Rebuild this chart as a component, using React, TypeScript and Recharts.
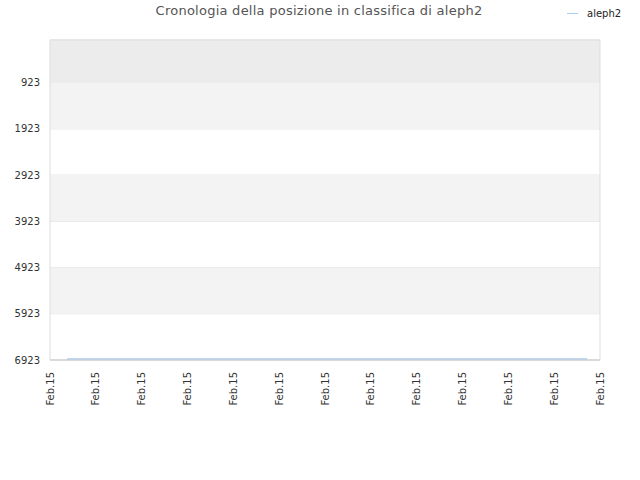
import React from "react";
import {
  LineChart,
  Line,
  XAxis,
  YAxis,
  CartesianGrid,
  ReferenceArea,
} from "recharts";

const TITLE = "Cronologia della posizione in classifica di aleph2";
const SERIES_NAME = "aleph2";
const X_TICKS = [0, 1, 2, 3, 4, 5, 6, 7, 8, 9, 10, 11, 12];
const X_TICK_LABEL = "Feb.15";
const Y_TICKS = [923, 1923, 2923, 3923, 4923, 5923, 6923];
const Y_DOMAIN = [0, 6923];
const POINT_X = [0.37, 11.72];
const POINT_RANK = [6901, 6901];
const BANDS: [number, number, string][] = [
  [0, 923, "#ececec"],
  [923, 1923, "#f3f3f3"],
  [2923, 3923, "#f3f3f3"],
  [4923, 5923, "#f3f3f3"],
];

const data = POINT_X.map((x, i) => ({ x, rank: POINT_RANK[i] }));

const FONT = "'DejaVu Sans', sans-serif";

const XTick = (props: any) => {
  const { x, y } = props;
  const yy = y + 6;
  return (
    <text
      x={x}
      y={yy}
      transform={`rotate(-90, ${x}, ${yy})`}
      textAnchor="end"
      dy="0.35em"
      fontSize={10}
      fontFamily={FONT}
      fill="#333"
    >
      {X_TICK_LABEL}
    </text>
  );
};

export default function App() {
  return (
    <div
      style={{
        position: "absolute",
        left: 0,
        top: 0,
        width: 640,
        height: 480,
        background: "#fff",
      }}
    >
      <div
        style={{
          position: "absolute",
          left: 0,
          top: 3,
          width: 638,
          textAlign: "center",
          fontFamily: FONT,
          fontSize: 13,
          letterSpacing: 0.25,
          color: "#555",
        }}
      >
        {TITLE}
      </div>
      <div
        style={{
          position: "absolute",
          left: 567,
          top: 8,
          display: "flex",
          alignItems: "center",
          fontFamily: FONT,
          fontSize: 10,
          color: "#222",
          zIndex: 2,
        }}
      >
        <div
          style={{
            width: 11,
            height: 0,
            borderTop: "1.5px solid #a8cdf0",
            marginRight: 9,
          }}
        />
        <span>{SERIES_NAME}</span>
      </div>
      <LineChart
        width={640}
        height={480}
        data={data}
        margin={{ top: 40, right: 40, bottom: 0, left: 0 }}
      >
        {BANDS.map(([a, b, c], i) => (
          <ReferenceArea
            key={i}
            y1={a}
            y2={b}
            fill={c}
            fillOpacity={1}
            stroke="none"
            ifOverflow="visible"
          />
        ))}
        <CartesianGrid vertical={false} stroke="#e2e2e2" strokeDasharray="" />
        <ReferenceArea
          y1={0}
          y2={6923}
          fill="none"
          stroke="#dddddd"
          strokeWidth={1}
          ifOverflow="visible"
        />
        <XAxis
          dataKey="x"
          type="number"
          domain={[0, 12]}
          ticks={X_TICKS}
          interval={0}
          height={120}
          tickLine={false}
          axisLine={{ stroke: "#cccccc" }}
          tick={<XTick />}
          tickSize={6}
          tickMargin={0}
        />
        <YAxis
          type="number"
          reversed
          domain={Y_DOMAIN}
          ticks={Y_TICKS}
          interval={0}
          width={50}
          tickLine={false}
          axisLine={false}
          tickSize={6}
          tickMargin={4}
          tick={{ fontSize: 10, fontFamily: FONT, fill: "#333" }}
        />
        <Line
          dataKey="rank"
          stroke="#a8cdf0"
          strokeWidth={1.5}
          dot={false}
          isAnimationActive={false}
        />
      </LineChart>
    </div>
  );
}
